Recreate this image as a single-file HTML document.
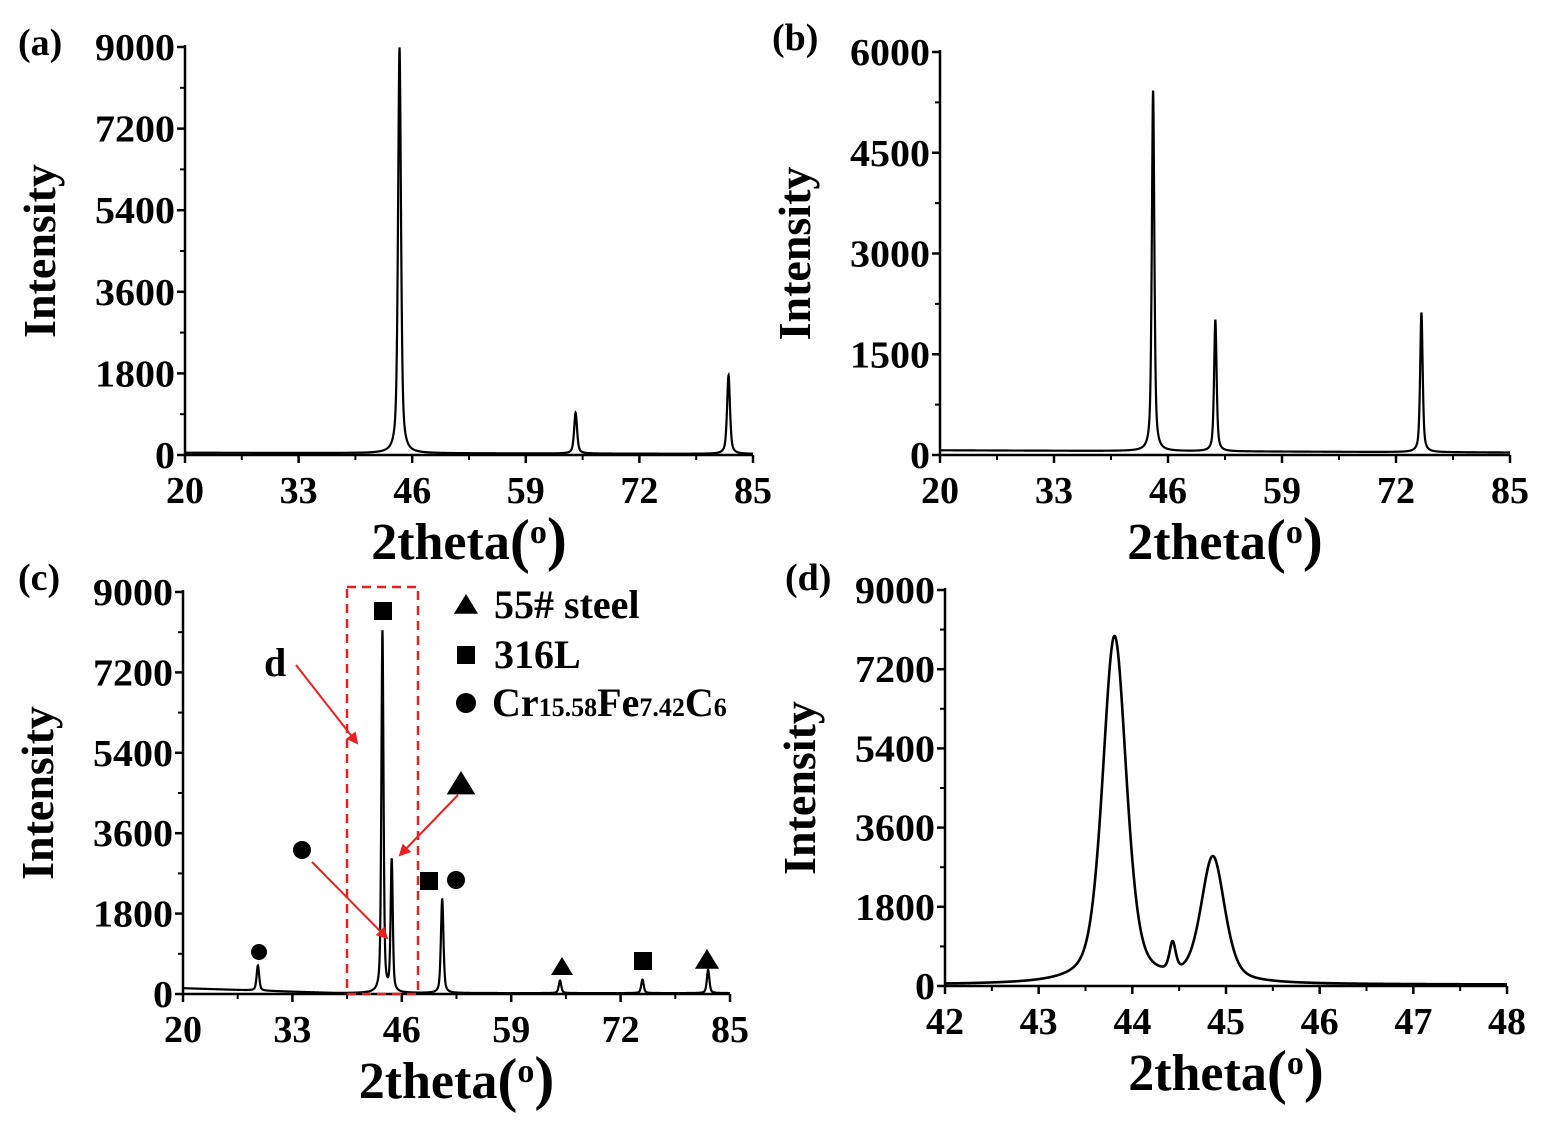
<!DOCTYPE html>
<html><head><meta charset="utf-8"><style>
body{margin:0;background:#fff;}
svg{display:block;}
text{font-family:"Liberation Serif",serif;font-weight:bold;fill:#000;}
</style></head><body>
<svg id="s" width="1548" height="1126" xmlns="http://www.w3.org/2000/svg"></svg>
<script>
const s=document.getElementById('s');
let h='';
function panel(o){
 const {x0,x1,y0,y1,xmin,xmax,ymax,xt,yt,peaks,base,label,lx,ly,w,eta}=o;
 const X=v=>x0+(v-xmin)/(xmax-xmin)*(x1-x0), Y=v=>y0-(v/ymax)*(y0-y1);
 h+=`<line x1="${x0}" y1="${y1-2}" x2="${x0}" y2="${y0}" stroke="#000" stroke-width="2.5"/>`;
 h+=`<line x1="${x0}" y1="${y0}" x2="${x1}" y2="${y0}" stroke="#000" stroke-width="2.5"/>`;
 yt.forEach((v,i)=>{const y=Y(v);h+=`<line x1="${x0-8}" y1="${y}" x2="${x0}" y2="${y}" stroke="#000" stroke-width="2.5"/>`;
  h+=`<text x="${x0-10}" y="${y+13}" font-size="38" text-anchor="end" textLength="${String(v).length*20}" lengthAdjust="spacingAndGlyphs">${v}</text>`;
  if(i<yt.length-1){const ym=Y((v+yt[i+1])/2);h+=`<line x1="${x0-5}" y1="${ym}" x2="${x0}" y2="${ym}" stroke="#000" stroke-width="2"/>`;}});
 xt.forEach((v,i)=>{const x=X(v);h+=`<line x1="${x}" y1="${y0}" x2="${x}" y2="${y0+8}" stroke="#000" stroke-width="2.5"/>`;
  h+=`<text x="${x}" y="${y0+48}" font-size="38" text-anchor="middle">${v}</text>`;
  if(i<xt.length-1){const xm=X((v+xt[i+1])/2);h+=`<line x1="${xm}" y1="${y0}" x2="${xm}" y2="${y0+5}" stroke="#000" stroke-width="2"/>`;}});
 h+=`<text transform="translate(${x0-130},${(y0+y1)/2}) rotate(-90)" font-size="46" text-anchor="middle">Intensity</text>`;
 h+=`<text x="${(x0+x1)/2}" y="${y0+104}" font-size="52" text-anchor="middle">2theta<tspan font-size="60" dy="2">(</tspan><tspan font-size="34" dy="-18">o</tspan><tspan font-size="60" dy="16">)</tspan></text>`;
 h+=`<text x="${lx}" y="${ly}" font-size="38">${label}</text>`;
 let d='';const N=3000;
 for(let i=0;i<=N;i++){const t=xmin+(xmax-xmin)*i/N;let v=base(t);
  peaks.forEach(p=>{const g=p[2],u=(t-p[0])/g;v+=p[1]*(eta/(1+u*u)+(1-eta)*Math.exp(-0.693*u*u));});
  d+=(i?'L':'M')+X(t).toFixed(2)+' '+Math.min(y0,Y(v)).toFixed(2);}
 h+=`<path d="${d}" fill="none" stroke="#000" stroke-width="${w}"/>`;
}
panel({x0:185,x1:753,y0:455,y1:47,xmin:20,xmax:85,ymax:9000,xt:[20,33,46,59,72,85],yt:[0,1800,3600,5400,7200,9000],
 peaks:[[44.55,8950,0.2],[64.7,900,0.2],[82.2,1730,0.2]],base:t=>50-0.4*(t-20),label:'(a)',lx:18,ly:55,w:2.2,eta:0.6});
panel({x0:940,x1:1510,y0:455,y1:52,xmin:20,xmax:85,ymax:6000,xt:[20,33,46,59,72,85],yt:[0,1500,3000,4500,6000],
 peaks:[[44.3,5380,0.17],[51.4,1960,0.17],[74.9,2080,0.17]],base:t=>70-0.5*(t-20),label:'(b)',lx:772,ly:50,w:2.2,eta:0.6});
panel({x0:183,x1:730,y0:994,y1:592,xmin:20,xmax:85,ymax:9000,xt:[20,33,46,59,72,85],yt:[0,1800,3600,5400,7200,9000],
 peaks:[[28.9,560,0.18],[43.7,8100,0.15],[44.8,2950,0.15],[50.8,2100,0.18],[64.8,280,0.18],[74.6,300,0.18],[82.4,520,0.18]],base:t=>Math.max(20,130-6*(t-20)),label:'(c)',lx:18,ly:590,w:2.2,eta:0.5});
panel({x0:945,x1:1507,y0:986,y1:590,xmin:42,xmax:48,ymax:9000,xt:[42,43,44,45,46,47,48],yt:[0,1800,3600,5400,7200,9000],
 peaks:[[43.81,7900,0.15],[44.43,650,0.04],[44.86,2850,0.15]],base:t=>30,label:'(d)',lx:785,ly:590,w:2.6,eta:0.45});
h+=`<rect x="347" y="587" width="71" height="407" fill="none" stroke="#e52222" stroke-width="2.5" stroke-dasharray="9,6"/>`;
h+=`<defs><marker id="ar" markerWidth="12" markerHeight="12" refX="10" refY="6" orient="auto" markerUnits="userSpaceOnUse"><path d="M0,0 L12,6 L0,12z" fill="#e52222"/></marker></defs>`;
h+=`<line x1="296" y1="665" x2="357" y2="743" stroke="#e52222" stroke-width="2" marker-end="url(#ar)"/>`;
h+=`<line x1="458" y1="795" x2="400" y2="855" stroke="#e52222" stroke-width="2" marker-end="url(#ar)"/>`;
h+=`<line x1="312" y1="862" x2="387" y2="938" stroke="#e52222" stroke-width="2" marker-end="url(#ar)"/>`;
h+=`<text x="264" y="676" font-size="40">d</text>`;
const tri=(x,y,r)=>`<polygon points="${x},${y-r} ${x-r*1.1},${y+r*0.8} ${x+r*1.1},${y+r*0.8}" fill="#000"/>`;
const sq=(x,y,r)=>`<rect x="${x-r}" y="${y-r}" width="${2*r}" height="${2*r}" fill="#000"/>`;
const ci=(x,y,r)=>`<circle cx="${x}" cy="${y}" r="${r}" fill="#000"/>`;
h+=sq(383,611,9)+tri(461,784,13)+ci(302,850,9)+sq(429,881,9)+ci(456,880,9)+ci(259,952,8)+tri(562,967,10)+sq(643,961,9)+tri(707,960,11);
h+=tri(466,605,11)+`<text x="494" y="618" font-size="40">55# steel</text>`;
h+=sq(466,655,9)+`<text x="494" y="668" font-size="40">316L</text>`;
h+=ci(466,703,10)+`<text x="492" y="716" font-size="40">Cr<tspan font-size="26">15.58</tspan>Fe<tspan font-size="26">7.42</tspan>C<tspan font-size="26">6</tspan></text>`;
s.innerHTML=h;
</script>
</body></html>
